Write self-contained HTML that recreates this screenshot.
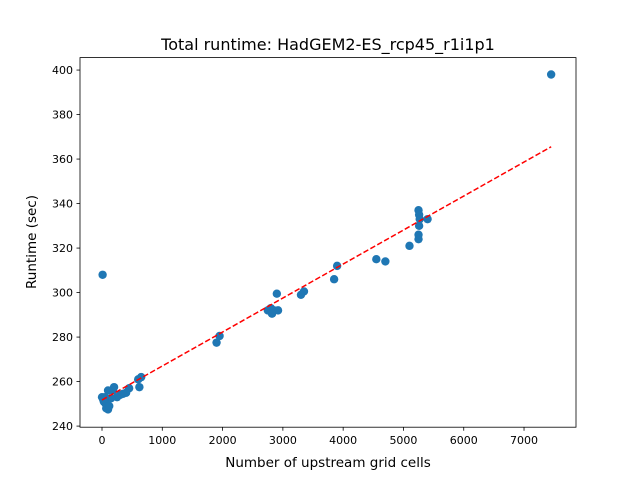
<!DOCTYPE html>
<html><head><meta charset="utf-8"><style>
body{margin:0;background:#fff}
text{font-family:"DejaVu Sans","Liberation Sans",sans-serif;fill:#000}
</style></head><body>
<svg id="chart" width="640" height="480" xmlns="http://www.w3.org/2000/svg">
<rect width="640" height="480" fill="#fff"/>
<text x="328" y="50" font-size="16" text-anchor="middle">Total runtime: HadGEM2-ES_rcp45_r1i1p1</text>
<g id="marks"></g><g id="axes"></g>
<text x="328" y="467" font-size="13.5" text-anchor="middle">Number of upstream grid cells</text>
<text transform="translate(36,242) rotate(-90)" font-size="13.5" text-anchor="middle">Runtime (sec)</text>
</svg>
<script>
const xs=[7450,10,5250,5260,5270,5400,5260,5250,5250,5100,4550,4700,3900,3850,3350,3300,2900,2800,2750,2850,2920,2820,1950,1900,650,600,620,450,400,350,200,180,100,250,150,50,0,30,60,80,70,100,120,20,300];
const ys=[398,308,337,335,333,333,330,326,324,321,315,314,312,306,300.5,299,299.5,293,292,292,292,290.5,280.5,277.5,262,261,257.5,257,255,254.5,257.5,256,256,253,252.5,253,253,251,250,249,248,247.5,249,252,254];
const xTicks=[0,1000,2000,3000,4000,5000,6000,7000];
const yTicks=[240,260,280,300,320,340,360,380,400];
const L=80,R=576,T=57.6,B=427.2,xmin=-365,xmax=7862,ymin=239.5,ymax=405.6;
const sx=v=>L+(v-xmin)/(xmax-xmin)*(R-L), sy=v=>B-(v-ymin)/(ymax-ymin)*(B-T);
const NS="http://www.w3.org/2000/svg";
const marks=document.getElementById('marks'),axes=document.getElementById('axes');
function mk(p,tag,a){const e=document.createElementNS(NS,tag);for(const k in a)e.setAttribute(k,a[k]);p.appendChild(e);return e;}
xs.forEach((x,i)=>{const c=mk(marks,'circle',{cx:sx(x),cy:sy(ys[i]),r:4.2,fill:'#1f77b4'});

});
const n=xs.length,mx=xs.reduce((a,b)=>a+b)/n,my=ys.reduce((a,b)=>a+b)/n;
let sxy=0,sxx=0;xs.forEach((x,i)=>{sxy+=(x-mx)*(ys[i]-my);sxx+=(x-mx)**2;});
const m=sxy/sxx,b0=my-m*mx,x0=Math.min(...xs),x1=Math.max(...xs);
const fl=mk(marks,'line',{x1:sx(x0),y1:sy(m*x0+b0),x2:sx(x1),y2:sy(m*x1+b0),stroke:'red','stroke-width':1.5,'stroke-dasharray':'5.5,2.4'});


const fr=mk(axes,'rect',{x:L,y:T,width:R-L,height:B-T,fill:'none',stroke:'#000','stroke-width':0.8});


xTicks.forEach(t=>{const x=sx(t);mk(axes,'line',{x1:x,x2:x,y1:B,y2:B+3.5,stroke:'#000','stroke-width':0.8});
const tx=mk(axes,'text',{x:x,y:B+17,'font-size':11,'text-anchor':'middle'});tx.textContent=t;

});
yTicks.forEach(t=>{const y=sy(t);mk(axes,'line',{x1:L-3.5,x2:L,y1:y,y2:y,stroke:'#000','stroke-width':0.8});
const tx=mk(axes,'text',{x:L-7,y:y+4,'font-size':11,'text-anchor':'end'});tx.textContent=t;

});
</script>
</body></html>
